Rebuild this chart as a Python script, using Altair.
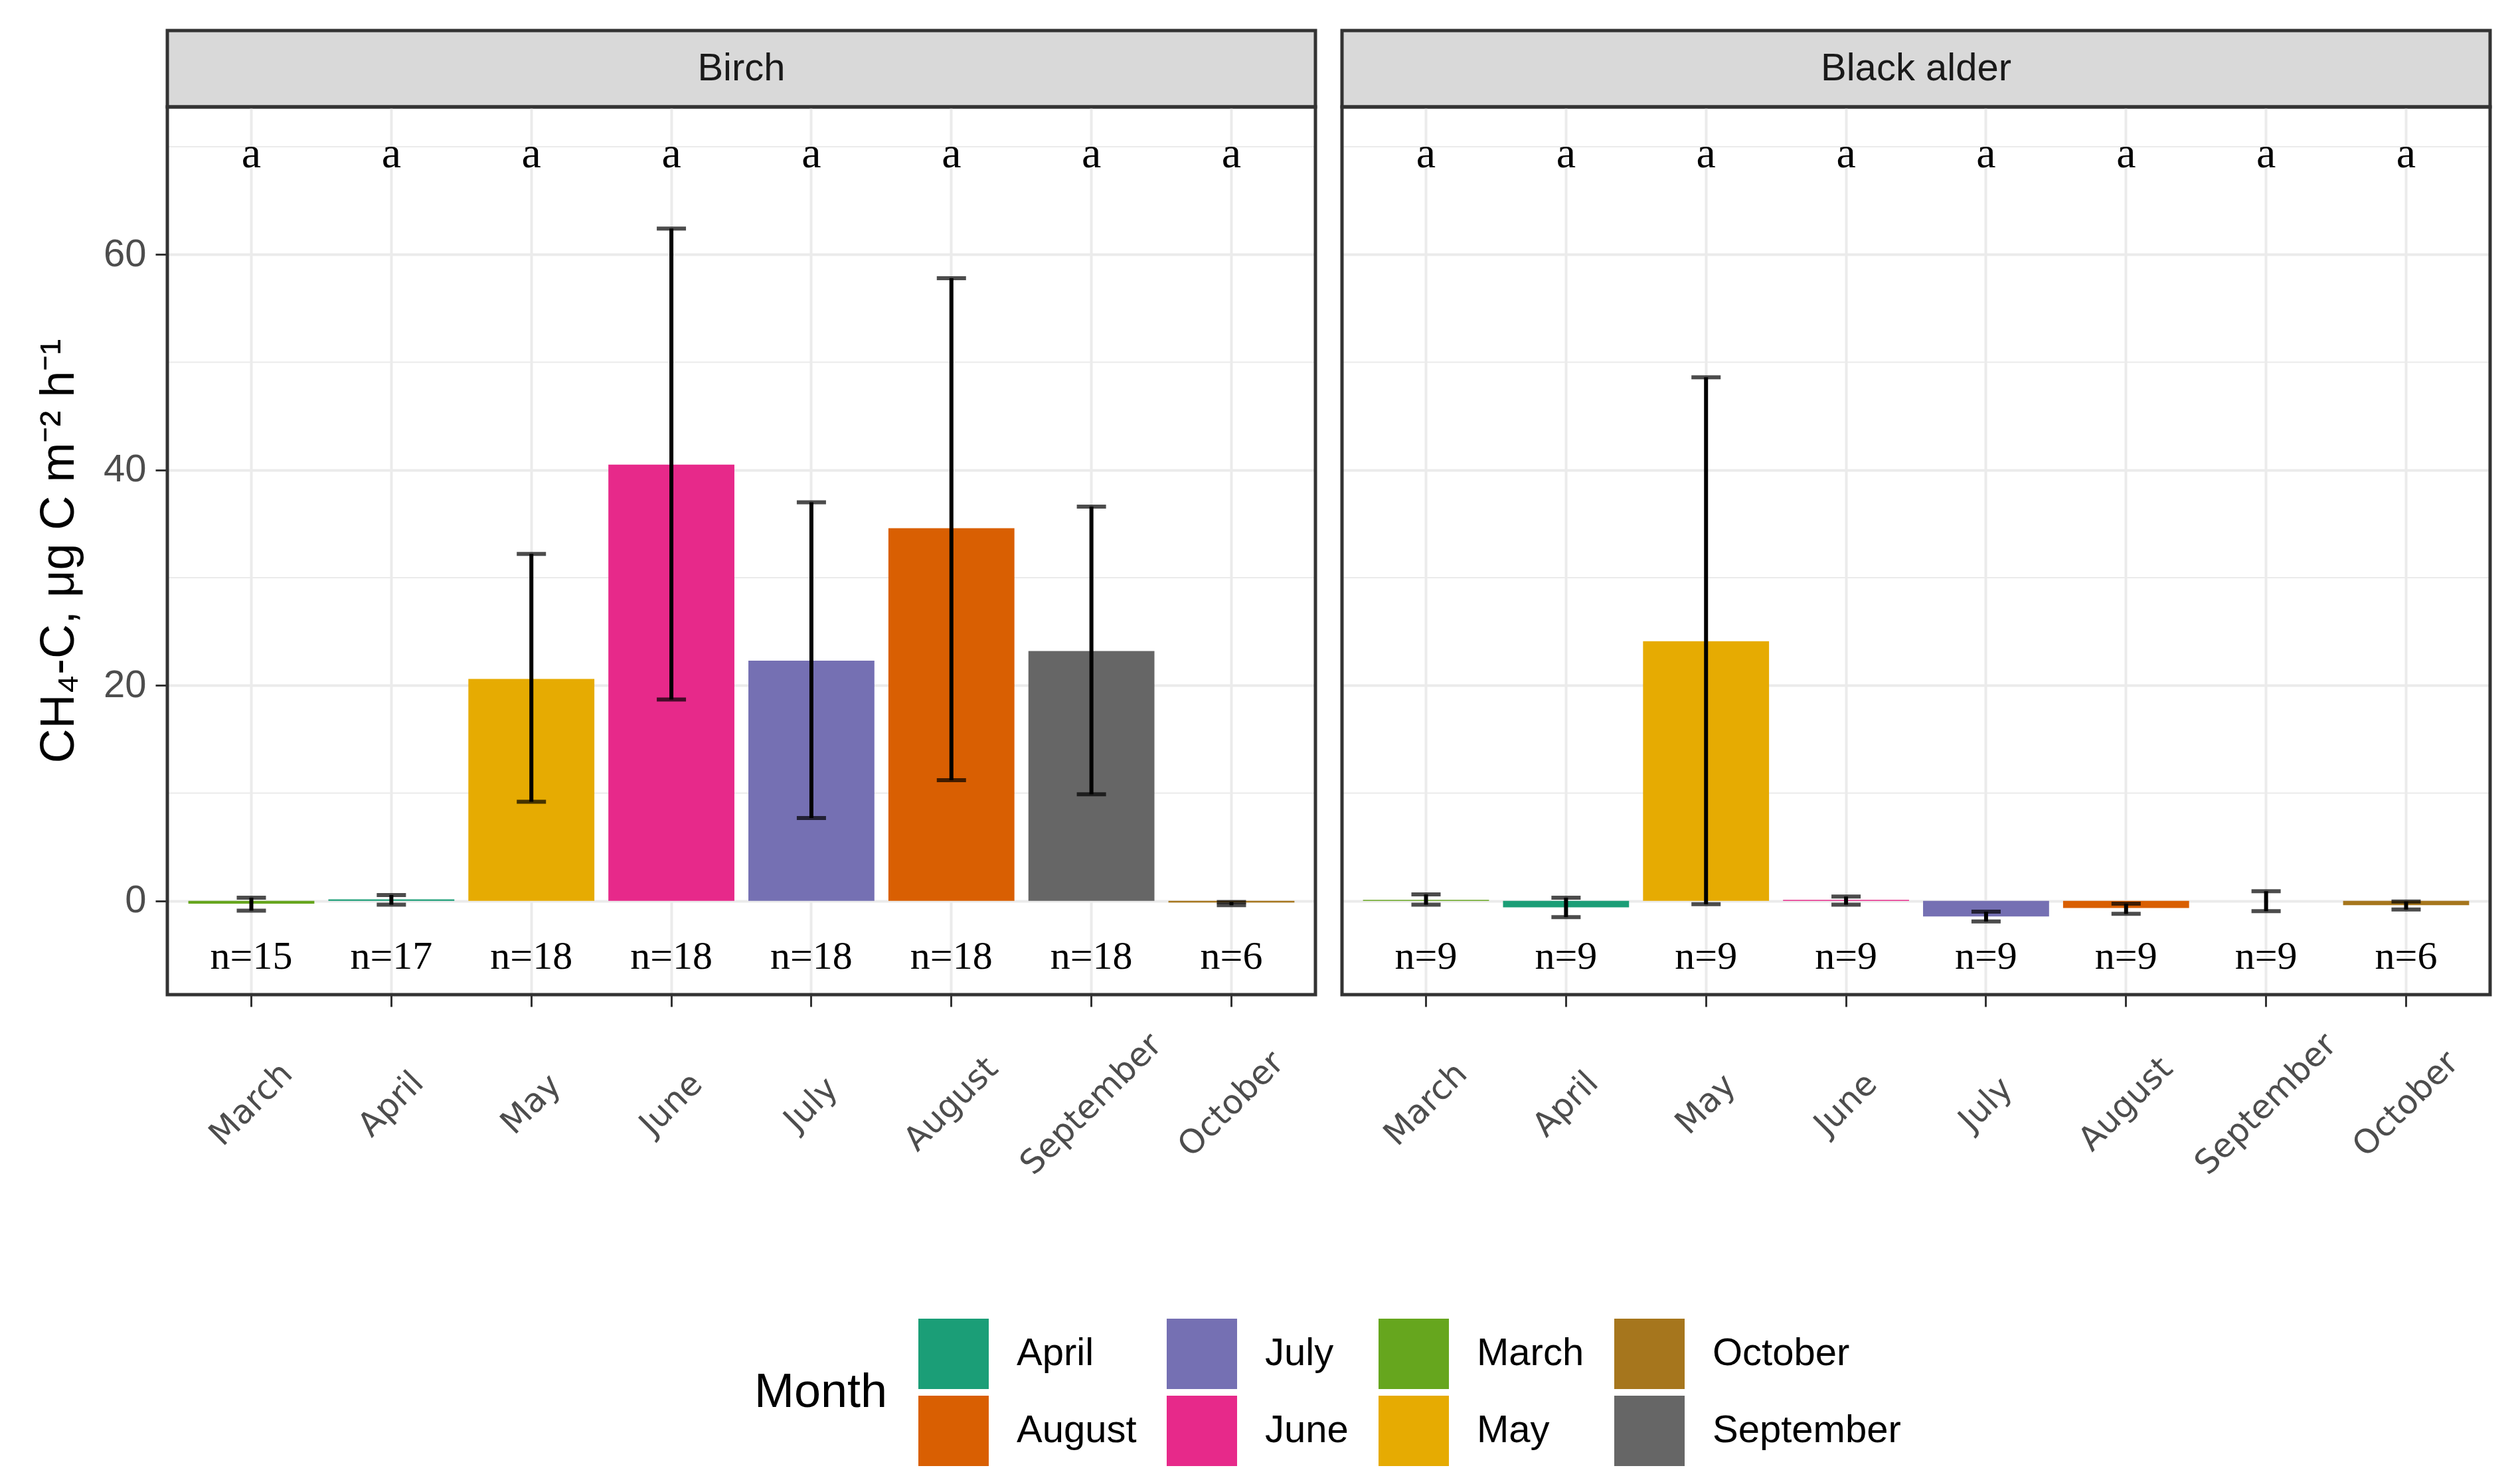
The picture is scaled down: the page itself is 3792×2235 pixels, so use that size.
import altair as alt
import pandas as pd

months = ["March", "April", "May", "June", "July", "August", "September", "October"]
trees = ["Birch", "Black alder"]

birch_mean = [-0.25, 0.15, 20.6, 40.5, 22.3, 34.6, 23.2, -0.15]
birch_lo = [-0.9, -0.35, 9.2, 18.7, 7.7, 11.2, 9.9, -0.4]
birch_hi = [0.3, 0.55, 32.2, 62.4, 37.0, 57.8, 36.6, -0.1]
birch_n = [15, 17, 18, 18, 18, 18, 18, 6]

alder_mean = [0.1, -0.6, 24.1, 0.1, -1.45, -0.65, 0.0, -0.4]
alder_lo = [-0.35, -1.5, -0.3, -0.35, -1.9, -1.2, -0.95, -0.8]
alder_hi = [0.6, 0.3, 48.6, 0.4, -1.0, -0.25, 0.9, -0.05]
alder_n = [9, 9, 9, 9, 9, 9, 9, 6]

letters_birch = ["a"] * 8
letters_alder = ["a"] * 8

minor_breaks = [10, 30, 50, 70]
major_breaks = [0, 20, 40, 60]

legend_order = ["April", "July", "March", "October", "August", "June", "May", "September"]
legend_colors = ["#1B9E77", "#7570B3", "#66A61E", "#A6761D", "#D95F02", "#E7298A", "#E6AB02", "#666666"]

W = 1729
H = 1337
HS = 115
YDOM = [-8.7, 73.7]
LETTER_Y = 69.3
N_Y = -5.2

ytitle = "CH\u2084-C, \u03bcg C m\u207b\u00b2 h\u207b\u00b9"


def panel(tree, mean, lo, hi, n, letters, show_y):
    df = pd.DataFrame({
        "Month": months,
        "mean": mean,
        "lo": lo,
        "hi": hi,
        "nlab": [f"n={v}" for v in n],
        "letter": letters,
    })
    ysc = alt.Scale(domain=YDOM, nice=False, zero=False)
    common = dict(
        values=major_breaks, grid=True, gridColor="#EBEBEB", gridWidth=4,
        domain=False,
    )
    if show_y:
        yax = alt.Axis(
            title=ytitle, titleFont="Liberation Sans", titleFontSize=72,
            titleFontWeight="normal", titleColor="#000000", titlePadding=30,
            labelFont="Liberation Sans", labelFontSize=58, labelColor="#4D4D4D",
            labelPadding=14, tickSize=18, tickWidth=3, tickColor="#333333",
            labelOverlap=False, labelFlush=False, **common)
    else:
        yax = alt.Axis(title=None, labels=False, ticks=False, **common)
    xsc = alt.Scale(paddingInner=0.1, paddingOuter=0.15)
    xax = alt.Axis(
        title=None, labelAngle=-45, labelAlign="center", labelBaseline="middle",
        labelPadding=147, tickSize=18, tickWidth=3, tickColor="#333333",
        labelColor="#4D4D4D", labelFont="DejaVu Sans", labelFontSize=50,
        grid=True, gridColor="#EBEBEB", gridWidth=4, domain=False,
        bandPosition=0.5, labelLimit=500, labelOverlap=False, labelFlush=False)
    X = alt.X("Month:N", sort=months, scale=xsc, axis=xax)

    base = alt.Chart(df)

    minor = alt.Chart(pd.DataFrame({"v": minor_breaks})).mark_rule(
        color="#EBEBEB", strokeWidth=2).encode(
        y=alt.Y("v:Q", scale=ysc, axis=yax))

    bars = base.mark_bar().encode(
        x=X,
        y=alt.Y("mean:Q", scale=ysc, axis=yax),
        color=alt.Color("Month:N", scale=alt.Scale(domain=legend_order, range=legend_colors),
                        legend=alt.Legend(
                            title="Month", orient="none", legendX=884, legendY=1940,
                            columns=4, direction="horizontal",
                            symbolType="square", symbolSize=11236, symbolStrokeWidth=0,
                            symbolOpacity=1,
                            labelFont="Liberation Sans", labelFontSize=58, labelColor="#000000",
                            titleFont="Liberation Sans", titleFontSize=72, titleFontWeight="normal",
                            titleColor="#000000",
                            titleOrient="left", titleAnchor="middle", titleBaseline="middle",
                            titlePadding=46, columnPadding=45, rowPadding=10, labelOffset=42,
                            labelLimit=600, titleLimit=600)),
    )

    err = base.mark_rule(color="#000000", strokeWidth=6).encode(
        x=X, y=alt.Y("lo:Q", scale=ysc, axis=yax), y2="hi:Q")
    cap_lo = base.mark_tick(color="#000000", size=44, thickness=6).encode(
        x=X, y=alt.Y("lo:Q", scale=ysc, axis=yax))
    cap_hi = base.mark_tick(color="#000000", size=44, thickness=6).encode(
        x=X, y=alt.Y("hi:Q", scale=ysc, axis=yax))

    let_txt = base.mark_text(font="Liberation Serif", fontSize=66, baseline="middle",
                             color="#000000").encode(
        x=X, y=alt.YDatum(LETTER_Y, type="quantitative", scale=ysc, axis=yax), text="letter:N")
    n_txt = base.mark_text(font="Liberation Serif", fontSize=60, baseline="middle",
                           color="#000000").encode(
        x=X, y=alt.YDatum(N_Y, type="quantitative", scale=ysc, axis=yax), text="nlab:N")

    border = alt.Chart(pd.DataFrame({"tree": [tree]})).mark_rect(
        fillOpacity=0, stroke="#333333", strokeWidth=5).encode(
        x=alt.value(0), x2=alt.value(W), y=alt.value(0), y2=alt.value(H))

    layered = alt.layer(minor, bars, err, cap_lo, cap_hi, let_txt, n_txt, border).properties(
        width=W, height=H)

    strip = alt.Chart(pd.DataFrame({"tree": [tree]})).mark_text(
        font="Liberation Sans", fontSize=58, color="#1A1A1A", baseline="middle").encode(
        x=alt.value(W / 2), y=alt.value(HS / 2), text="tree:N").properties(
        width=W, height=HS,
        view=alt.ViewBackground(fill="#D9D9D9", stroke="#333333", strokeWidth=5))

    return alt.vconcat(strip, layered, spacing=0, bounds="flush")


p1 = panel(trees[0], birch_mean, birch_lo, birch_hi, birch_n, letters_birch, True)
p2 = panel(trees[1], alder_mean, alder_lo, alder_hi, alder_n, letters_alder, False)

chart = alt.hconcat(p1, p2, spacing=34).properties(
    padding={"left": 43, "top": 35, "right": 5, "bottom": 5},
    background="#FFFFFF",
).configure_view(stroke="transparent")

chart.save("out.html", embed_options={"renderer": "svg", "actions": False})
